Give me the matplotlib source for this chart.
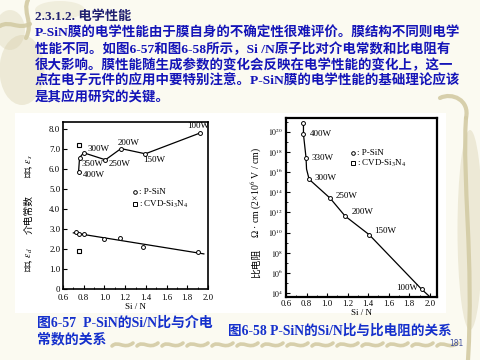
import matplotlib
matplotlib.use('Agg')
import numpy as np
import matplotlib.pyplot as plt
from matplotlib.patches import Rectangle, Ellipse, PathPatch
from matplotlib.path import Path
from matplotlib.ticker import FixedLocator, MultipleLocator, NullFormatter

plt.rcParams['mathtext.fontset'] = 'stix'
SERIF = ['Liberation Serif', 'DejaVu Serif']
MIXED = ['Liberation Serif', 'Noto Sans CJK SC', 'DejaVu Sans']
CJK = ['Noto Sans CJK SC', 'Liberation Serif', 'DejaVu Sans']

# ---------------- data: Fig 6-57 (dielectric constant) ----------------
static_x = [0.75, 0.76, 0.80, 1.01, 1.16, 1.395, 1.925]
static_eps = [5.82, 6.55, 6.79, 6.44, 7.00, 6.74, 7.78]
static_power = ['400W', '350W', '300W', '250W', '200W', '150W', '100W']
cvd_x = [0.75, 0.75]
cvd_eps = [7.18, 1.88]
dyn_x = [0.73, 0.75, 0.80, 1.00, 1.15, 1.37, 1.90]
dyn_eps = [2.85, 2.72, 2.72, 2.48, 2.55, 2.10, 1.86]
dyn_fit_x = [0.70, 1.96]
dyn_fit_eps = [2.80, 1.75]
eps_ticks = [0, 1, 2, 3, 4, 5, 6, 7, 8]
eps_ticklabels = ['0', '1.0', '2.0', '3.0', '4.0', '5.0', '6.0', '7.0', '8.0']
sin_ticks = [0.6, 0.8, 1.0, 1.2, 1.4, 1.6, 1.8, 2.0]
sin_ticklabels = ['0.6', '0.8', '1.0', '1.2', '1.4', '1.6', '1.8', '2.0']

# ---------------- data: Fig 6-58 (resistivity) ----------------
res_x = [0.77, 0.77, 0.795, 0.825, 1.03, 1.175, 1.41, 1.92]
res_log10 = [20.9, 19.74, 17.43, 15.29, 13.41, 11.65, 9.8, 4.4]
res_power = ['', '400W', '330W', '300W', '250W', '200W', '150W', '100W']
res_curve_x = [0.77, 0.77, 0.795, 0.80, 0.825, 1.03, 1.175, 1.41, 1.92, 1.99]
res_curve_log10 = [20.9, 19.74, 17.43, 16.3, 15.29, 13.41, 11.65, 9.8, 4.4, 3.75]
res_tick_exp = [4, 6, 8, 10, 12, 14, 16, 18, 20]

# ---------------- slide text ----------------
heading = '2.3.1.2. 电学性能'
body_lines = [
    'P-SiN膜的电学性能由于膜自身的不确定性很难评价。膜结构不同则电学',
    '性能不同。如图6-57和图6-58所示，Si /N原子比对介电常数和比电阻有',
    '很大影响。膜性能随生成参数的变化会反映在电学性能的变化上，这一',
    '点在电子元件的应用中要特别注意。P-SiN膜的电学性能的基础理论应该',
    '是其应用研究的关键。',
]
cap57 = ['图6-57  P-SiN的Si/N比与介电', '常数的关系']
cap58 = '图6-58 P-SiN的Si/N比与比电阻的关系'
page_no = '181'

# ================= figure =================
W, H = 480, 360
fig = plt.figure(figsize=(4.8, 3.6), dpi=100)
fig.patch.set_facecolor('#fbfaf1')

bg = fig.add_axes([0, 0, 1, 1])
bg.set_xlim(0, W)
bg.set_ylim(H, 0)
bg.axis('off')

deco = '#d3cba4'
for (cx, cy, w, h, a) in [(22, 70, 45, 70, 0.35), (10, 30, 30, 40, 0.3), (470, 230, 25, 200, 0.35),
                          (60, 10, 50, 18, 0.25)]:
    bg.add_patch(Ellipse((cx, cy), w, h, color=deco, alpha=a, lw=0))

def curve(verts, lw=2.5, color=deco, alpha=0.9):
    codes = [Path.MOVETO] + [Path.CURVE4] * (len(verts) - 1)
    bg.add_patch(PathPatch(Path(verts, codes), fill=False, lw=lw, ec=color, alpha=alpha,
                           capstyle='round'))

curve([(28, 0), (22, 12), (34, 22), (26, 38)], lw=3)
curve([(0, 26), (10, 20), (18, 30), (30, 24)], lw=3)
curve([(440, 98), (452, 92), (470, 100), (466, 118)], lw=3)
curve([(466, 118), (462, 180), (474, 260), (468, 360)], lw=3)
for x0 in range(112, 445, 25):
    curve([(x0, 346), (x0 + 6, 340), (x0 + 12, 350), (x0 + 21, 343)], lw=2.6)

# white picture panel
bg.add_patch(Rectangle((15, 113), 431, 200, fc='white', ec='none'))

# slide text
bg.text(35, 17, heading, family=MIXED, weight='bold', fontsize=9.5, color='#202070',
        va='center', ha='left')
for i, line in enumerate(body_lines):
    bg.text(35, 33.5 + 16 * i, line, family=MIXED, weight='bold', fontsize=9.7,
            color='#1414b8', va='center', ha='left')
bg.text(37, 323, cap57[0], family=MIXED, weight='bold', fontsize=10, color='#1530cc',
        va='center', ha='left')
bg.text(37, 340, cap57[1], family=MIXED, weight='bold', fontsize=10, color='#1530cc',
        va='center', ha='left')
bg.text(228, 331, cap58, family=MIXED, weight='bold', fontsize=9.8, color='#1530cc',
        va='center', ha='left')
bg.text(449, 344, page_no, family=['DejaVu Sans'], fontsize=5.5, color='#4050a0',
        va='center', ha='left')

# axis titles (vertical)
bg.text(29, 166, '静态, $\\varepsilon_s$', family=MIXED, fontsize=7, rotation=90,
        ha='center', va='center')
bg.text(29, 215, '介电常数', family=CJK, fontsize=7, rotation=90, ha='center', va='center')
bg.text(29, 260, '动态, $\\varepsilon_d$', family=MIXED, fontsize=7, rotation=90,
        ha='center', va='center')
bg.text(256, 263, '比电阻', family=CJK, fontsize=7, rotation=90, ha='center', va='center')
bg.text(256, 193, 'Ω · cm (2×10$^6$ V / cm)', family=SERIF, fontsize=7, rotation=90,
        ha='center', va='center')

def fr(x0, y0, x1, y1):
    return [x0 / W, 1 - y1 / H, (x1 - x0) / W, (y1 - y0) / H]

tick_font = dict(family=SERIF, size=6.3)

# ================= Fig 6-57 =================
ax1 = fig.add_axes(fr(63, 121.5, 208, 289))
ax1.set_facecolor('none')
ax1.set_xlim(0.6, 2.0)
ax1.set_ylim(0, 8.35)
ax1.plot(static_x, static_eps, color='black', lw=0.9, marker='o', ms=2.8, mfc='white',
         mec='black', mew=0.7)
ax1.plot(dyn_fit_x, dyn_fit_eps, color='black', lw=0.9)
ax1.plot(dyn_x, dyn_eps, ls='none', marker='o', ms=2.8, mfc='white', mec='black', mew=0.7)
ax1.plot(cvd_x, cvd_eps, ls='none', marker='s', ms=3.2, mfc='white', mec='black', mew=0.8)
left_off = [(4, 3), (1.5, 6.5), (3.5, -3.5), (3, 4.5), (-3, -5.5), (-2, 6), (-13, -6.5)]
for x, y, s, (dx, dy) in zip(static_x, static_eps, static_power, left_off):
    ax1.annotate(s, (x, y), xytext=(dx, -dy), textcoords='offset pixels', ha='left',
                 va='center', family=SERIF, fontsize=6.5)
ax1.plot([1.295], [4.86], ls='none', marker='o', ms=2.6, mfc='white', mec='black', mew=0.7)
ax1.plot([1.295], [4.23], ls='none', marker='s', ms=3.0, mfc='white', mec='black', mew=0.7)
ax1.text(1.33, 4.86, ': P-SiN', family=SERIF, fontsize=6.5, va='center')
ax1.text(1.33, 4.23, ': CVD-Si$_3$N$_4$', family=SERIF, fontsize=6.5, va='center')
ax1.xaxis.set_major_locator(FixedLocator(sin_ticks))
ax1.set_xticklabels(sin_ticklabels, **tick_font)
ax1.xaxis.set_minor_locator(MultipleLocator(0.1))
ax1.yaxis.set_major_locator(FixedLocator(eps_ticks))
ax1.set_yticklabels(eps_ticklabels, **tick_font)
ax1.tick_params(direction='in', length=3, width=0.8, pad=2)
ax1.tick_params(axis='x', pad=3.5)
ax1.tick_params(which='minor', direction='in', length=1.5, width=0.6)
ax1.set_xlabel('Si / N', family=SERIF, fontsize=6.5, labelpad=0.5)
for sp in ax1.spines.values():
    sp.set_linewidth(1.2)

# ================= Fig 6-58 =================
ax2 = fig.add_axes(fr(286, 118, 437, 297))
ax2.set_facecolor('none')
ax2.set_yscale('log')
ax2.set_xlim(0.6, 2.07)
ax2.set_ylim(10 ** 3.63, 10 ** 21.36)
ax2.plot(res_curve_x, 10.0 ** np.array(res_curve_log10), color='black', lw=0.9)
ax2.plot(res_x, 10.0 ** np.array(res_log10), ls='none', marker='o', ms=2.8, mfc='white',
         mec='black', mew=0.7)
right_off = [(6.5, 0), (5, 0), (5, -1.6), (5, -2.3), (7, -4.3), (4.7, -3.3), (-3.7, -1)]
for x, lg, s, (dx, dy) in zip(res_x[1:], res_log10[1:], res_power[1:], right_off):
    ax2.annotate(s, (x, 10 ** lg), xytext=(dx, -dy), textcoords='offset pixels',
                 ha='left' if dx > 0 else 'right', va='center', family=SERIF, fontsize=6.5)
ax2.plot([1.254], [10 ** 17.92], ls='none', marker='o', ms=2.6, mfc='white', mec='black', mew=0.7)
ax2.plot([1.254], [10 ** 16.87], ls='none', marker='s', ms=3.0, mfc='white', mec='black', mew=0.7)
ax2.text(1.29, 10 ** 17.92, ': P-SiN', family=SERIF, fontsize=6.5, va='center')
ax2.text(1.29, 10 ** 16.87, ': CVD-Si$_3$N$_4$', family=SERIF, fontsize=6.5, va='center')
ax2.xaxis.set_major_locator(FixedLocator(sin_ticks))
ax2.set_xticklabels(sin_ticklabels, **tick_font)
ax2.xaxis.set_minor_locator(MultipleLocator(0.1))
ax2.yaxis.set_major_locator(FixedLocator([10.0 ** e for e in res_tick_exp]))
ax2.set_yticklabels(['$10^{%d}$' % e for e in res_tick_exp], family=SERIF, size=5.6)
ax2.yaxis.set_minor_locator(FixedLocator([10.0 ** (e + 1) for e in res_tick_exp]))
ax2.yaxis.set_minor_formatter(NullFormatter())
ax2.tick_params(direction='in', length=3, width=0.8, pad=2)
ax2.tick_params(which='minor', direction='in', length=1.5, width=0.6)
ax2.set_xlabel('Si / N', family=SERIF, fontsize=6.5, labelpad=1)
for sp in ax2.spines.values():
    sp.set_linewidth(1.6)

fig.savefig('out.png', dpi=100, facecolor=fig.get_facecolor())
